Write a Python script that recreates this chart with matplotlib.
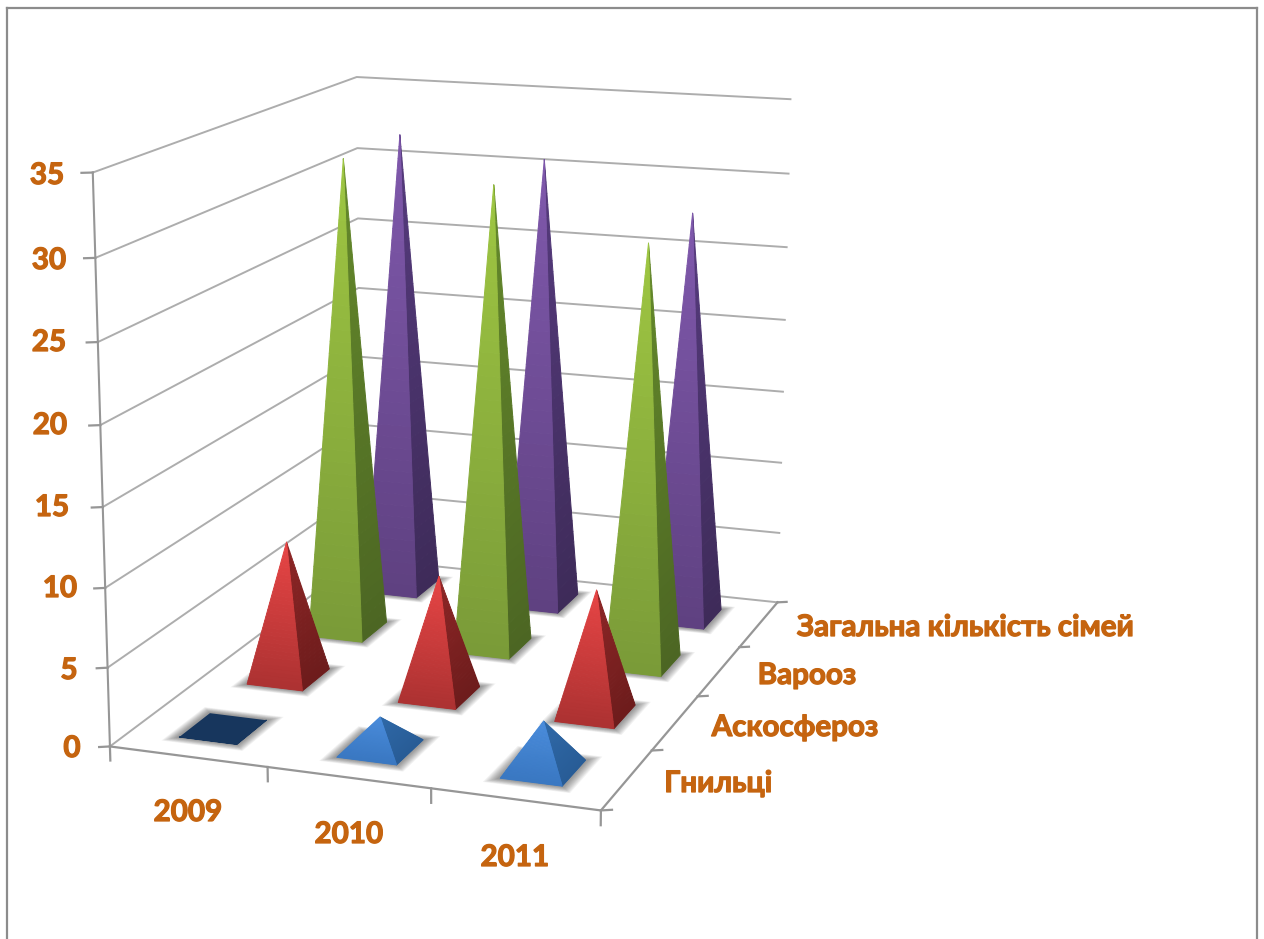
import numpy as np
import matplotlib
matplotlib.use('Agg')
import matplotlib.pyplot as plt
import matplotlib.patheffects as pe
from matplotlib.colors import to_rgb
from matplotlib.lines import Line2D
from mpl_toolkits.mplot3d.art3d import Poly3DCollection

plt.rcParams['font.family'] = ['Lato', 'Open Sans', 'DejaVu Sans']

years = ['2009', '2010', '2011']
series = ['Гнильці', 'Аскосфероз', 'Варооз', 'Загальна кількість сімей']
hnyltsi = [0.1, 2, 3]
askosferoz = [9, 7.8, 8]
varooz = [32, 30.9, 27.8]
simei = [32, 30.9, 27.9]
z_ticks = [0, 5, 10, 15, 20, 25, 30, 35]

# colours: front face top, front face bottom, side face top, side face bottom
blue_c = ['#4a8cdc', '#3a78c2', '#2f69a8', '#285c96']
red_c = ['#e84545', '#ad3232', '#8e2626', '#6d1c1c']
green_c = ['#9fc742', '#7a9b38', '#658a2b', '#4c6623']
purple_c = ['#8059ad', '#5f4181', '#563b7e', '#3e2b59']
navy_c = ['#17365d', '#17365d', '#17365d', '#17365d']
text_c = '#c5640f'
grid_c = '#adadad'
axis_c = '#969696'

W, H = 1264, 939
fig = plt.figure(figsize=(W/100, H/100), dpi=100)
S, L, top = 954.97, -23.77, -57.39
ax = fig.add_axes([L/W, (H-top-S)/H, S/W, S/H], projection='3d', computed_zorder=False)
ax.set_xlim(0, 3)
ax.set_ylim(0, 4)
ax.set_zlim(0, 35)
ax.view_init(elev=14.169, azim=-70.368)
ax.set_proj_type('persp', focal_length=0.6008)
ax.set_box_aspect((1, 1.3310, 1.1309))
ax.set_axis_off()


def mix(c0, c1, t):
    return tuple((1-t)*np.array(to_rgb(c0)) + t*np.array(to_rgb(c1)))


def pyramid(x, y, h, cols, zo, hx=0.185, hy=0.22):
    # soft shadow on the floor
    for k in range(9):
        g = 1.4 - k*0.04
        sq = [(x-hx*g, y-hy*g, 0), (x+hx*g, y-hy*g, 0), (x+hx*g, y+hy*g, 0), (x-hx*g, y+hy*g, 0)]
        ax.add_collection3d(Poly3DCollection([sq], facecolors=[(0, 0, 0, 0.05)], edgecolors='none', zorder=zo))
    base = [(x-hx, y-hy, 0), (x+hx, y-hy, 0), (x+hx, y+hy, 0), (x-hx, y+hy, 0)]
    ax.add_collection3d(Poly3DCollection([base], facecolors=[cols[1]], edgecolors='none', zorder=zo+0.05))
    ts = np.linspace(0, 1, 41)
    front, fc, side, sc = [], [], [], []
    for t0, t1 in zip(ts[:-1], ts[1:]):
        a0, a1 = 1-t0, 1-t1
        front.append([(x-hx*a0, y-hy*a0, h*t0), (x+hx*a0, y-hy*a0, h*t0), (x+hx*a1, y-hy*a1, h*t1), (x-hx*a1, y-hy*a1, h*t1)])
        side.append([(x+hx*a0, y-hy*a0, h*t0), (x+hx*a0, y+hy*a0, h*t0), (x+hx*a1, y+hy*a1, h*t1), (x+hx*a1, y-hy*a1, h*t1)])
        fc.append(mix(cols[1], cols[0], t0))
        sc.append(mix(cols[3], cols[2], t0))
    # same-colour edges close the seams between the gradient steps
    ax.add_collection3d(Poly3DCollection(side, facecolors=sc, edgecolors=sc, linewidths=0.7, zorder=zo+0.1))
    ax.add_collection3d(Poly3DCollection(front, facecolors=fc, edgecolors=fc, linewidths=0.7, zorder=zo+0.2))


# walls and axes
for z in z_ticks:
    ax.plot([0, 0, 3], [0, 4, 4], [z, z, z], color=grid_c, lw=1.4, zorder=1)
    ax.plot([-0.055, 0], [-0.03, 0], [z, z], color=axis_c, lw=1.6, zorder=1)
ax.plot([0, 0], [0, 0], [0, 35], color=axis_c, lw=1.5, zorder=1)
ax.plot([0, 3, 3], [0, 0, 4], [0, 0, 0], color=axis_c, lw=1.6, zorder=1)
for i in range(4):
    ax.plot([i, i], [0, 0], [0, -0.9], color=axis_c, lw=1.6, zorder=1)
for j in range(5):
    ax.plot([3, 3.055], [j, j+0.03], [0, 0], color=axis_c, lw=1.6, zorder=1)

# back row first so the front ones cover it
rows = [(3, simei, purple_c), (2, varooz, green_c), (1, askosferoz, red_c), (0, hnyltsi, blue_c)]
zo = 2
for j, vals, cols in rows:
    for i, v in enumerate(vals):
        pyramid(i+0.5, j+0.5, v, navy_c if v < 0.5 else cols, zo)
        zo += 1


# text placed in picture pixels
def label(px, py, s):
    fig.text(px/W, 1-py/H, s, color=text_c, fontsize=21.3, fontweight='bold', ha='center', va='center',
             path_effects=[pe.withStroke(linewidth=0.9, foreground=text_c)])


z_pos = [(72, 748), (69, 670), (60, 588), (52, 507), (50, 425), (49, 342), (49, 260), (47, 175)]
for z, (px, py) in zip(z_ticks, z_pos):
    label(px, py, str(z))
for s, (px, py) in zip(years, [(188, 812), (349, 834), (515, 857)]):
    label(px, py, s)
for s, (px, py) in zip(series, [(718, 783), (795, 727), (807, 675), (965, 627)]):
    label(px, py, s)

# picture frame, open at the bottom
for xs, ys in [((7, 7), (939, 8)), ((7, 1257), (8, 8)), ((1257, 1257), (8, 939))]:
    fig.add_artist(Line2D([x/W for x in xs], [1-y/H for y in ys], color='#8c8c8c', lw=1.6))

fig.savefig('out.png', dpi=100)
